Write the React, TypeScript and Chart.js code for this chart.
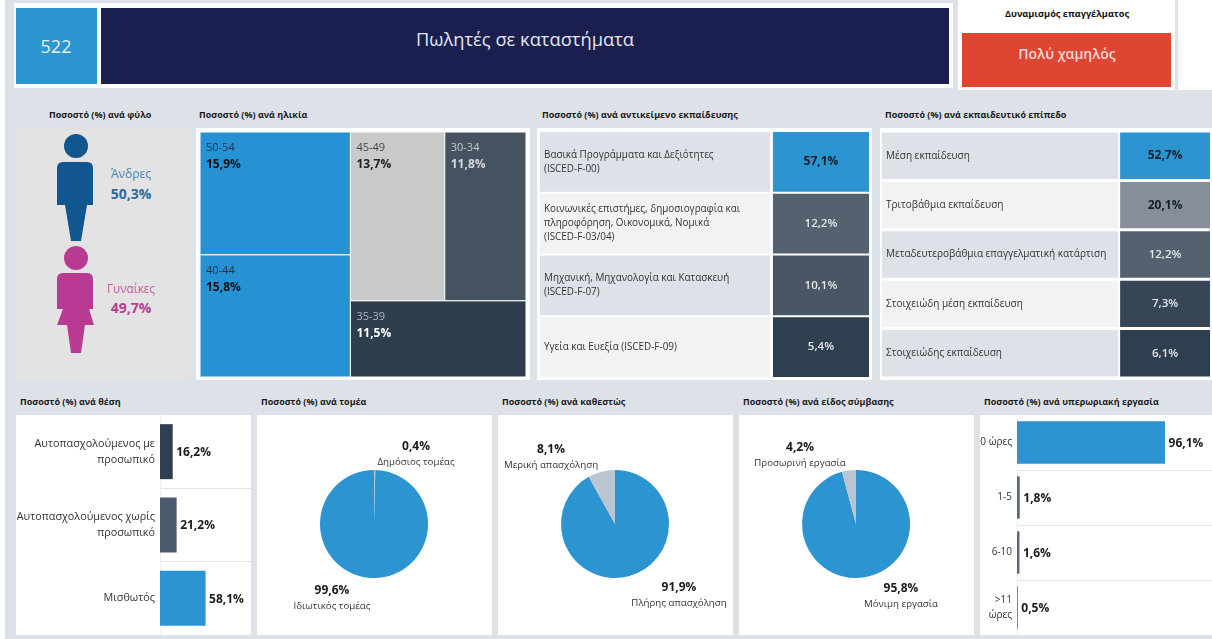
import React, { useEffect, useRef } from "react";
import { Chart, registerables } from "chart.js";

Chart.register(...registerables);

const FONT = '"Open Sans", "Noto Sans", sans-serif';

// ---- data ----
const headerCount = "522";
const headerTitle = "Πωλητές σε καταστήματα";
const dynamismTitle = "Δυναμισμός επαγγέλματος";
const dynamismValue = "Πολύ χαμηλός";

const genderLabels = ["Άνδρες", "Γυναίκες"];
const genderValues = [50.3, 49.7];

const ageLabels = ["50-54", "40-44", "45-49", "30-34", "35-39"];
const ageValues = [15.9, 15.8, 13.7, 11.8, 11.5];

const fieldLabels = [
  ["Βασικά Προγράμματα και Δεξιότητες", "(ISCED-F-00)"],
  ["Κοινωνικές επιστήμες, δημοσιογραφία και", "πληροφόρηση, Οικονομικά, Νομικά", "(ISCED-F-03/04)"],
  ["Μηχανική, Μηχανολογία και Κατασκευή", "(ISCED-F-07)"],
  ["Υγεία και Ευεξία (ISCED-F-09)"],
];
const fieldValues = [57.1, 12.2, 10.1, 5.4];

const eduLabels = [
  ["Μέση εκπαίδευση"],
  ["Τριτοβάθμια εκπαίδευση"],
  ["Μεταδευτεροβάθμια επαγγελματική κατάρτιση"],
  ["Στοιχειώδη μέση εκπαίδευση"],
  ["Στοιχειώδης εκπαίδευση"],
];
const eduValues = [52.7, 20.1, 12.2, 7.3, 6.1];

const positionLabels = [["Αυτοπασχολούμενος με", "προσωπικό"], ["Αυτοπασχολούμενος χωρίς", "προσωπικό"], "Μισθωτός"];
const positionValues = [16.2, 21.2, 58.1];

const sectorLabels = ["Δημόσιος τομέας", "Ιδιωτικός τομέας"];
const sectorValues = [0.4, 99.6];
const statusLabels = ["Πλήρης απασχόληση", "Μερική απασχόληση"];
const statusValues = [91.9, 8.1];
const contractLabels = ["Μόνιμη εργασία", "Προσωρινή εργασία"];
const contractValues = [95.8, 4.2];

const overtimeLabels = ["0 ώρες", "1-5", "6-10", [">11", "ώρες"]];
const overtimeValues = [96.1, 1.8, 1.6, 0.5];

// ---- styles ----
const BLUE = "#2B94D1";
const GREY_SLICE = "#BCC4CF";
const PAGE = "#DDE2E9";
const fmt = (v: number) => v.toFixed(1).replace(".", ",") + "%";

const ageColors = ["#2692D3", "#2692D3", "#C9C9C9", "#45525F", "#2E3E4D"];
const ageLabelColors = ["#1F3242", "#1F3242", "#444444", "#C4C8CC", "#AEB6BD"];
const ageValueColors = ["#111111", "#111111", "#222222", "#D6D9DC", "#FFFFFF"];

const fieldColors = [BLUE, "#54616E", "#4A5663", "#2E3F4F"];
const eduColors = [BLUE, "#868F99", "#54616E", "#364655", "#2E3F4F"];
const darkText = new Set([57.1, 52.7, 20.1]);
const positionColors = ["#2E4050", "#4A5A6A", BLUE];
const overtimeColors = [BLUE, "#5A6878", "#5A6878", "#5A6878"];

// ---- plugins ----
const treemapPlugin = {
  id: "treemapCells",
  beforeDatasetsDraw(chart: any) {
    const { ctx, scales } = chart;
    const { x, y } = scales;
    chart.data.datasets[0].data.forEach((c: any, i: number) => {
      const x0 = x.getPixelForValue(c.x0);
      const x1 = x.getPixelForValue(c.x1);
      const y0 = y.getPixelForValue(c.y1);
      const y1 = y.getPixelForValue(c.y0);
      ctx.fillStyle = ageColors[i];
      ctx.fillRect(x0, y0, x1 - x0, y1 - y0);
      ctx.strokeStyle = "#ffffff";
      ctx.lineWidth = 1;
      ctx.strokeRect(x0, y0, x1 - x0, y1 - y0);
      ctx.textAlign = "left";
      ctx.textBaseline = "middle";
      ctx.font = `11px ${FONT}`;
      ctx.fillStyle = ageLabelColors[i];
      ctx.fillText(c.label, x0 + 6, y0 + 16);
      ctx.font = `bold 12px ${FONT}`;
      ctx.fillStyle = ageValueColors[i];
      ctx.fillText(fmt(c.v), x0 + 6, y0 + 33);
    });
  },
};

const tableTextPlugin = {
  id: "tableText",
  afterDatasetsDraw(chart: any) {
    const { ctx } = chart;
    const { lineHeight: lineH, size } = chart.options.plugins.tableText;
    const labelMeta = chart.getDatasetMeta(0);
    const valueMeta = chart.getDatasetMeta(1);
    labelMeta.data.forEach((bar: any, i: number) => {
      const raw = chart.data.datasets[0].data[i];
      const lines: string[] = raw.lines;
      ctx.textBaseline = "middle";
      ctx.textAlign = "left";
      ctx.font = `${size}px ${FONT}`;
      ctx.fillStyle = "#333333";
      const left = Math.min(bar.base, bar.x);
      lines.forEach((t, k) => {
        ctx.fillText(t, left + 4, bar.y + (k - (lines.length - 1) / 2) * lineH);
      });
      const cell = valueMeta.data[i];
      const v = chart.data.datasets[1].data[i].v;
      const dark = darkText.has(v);
      ctx.textAlign = "center";
      ctx.font = `${dark ? 700 : 600} ${dark ? 12 : 11.5}px ${FONT}`;
      ctx.fillStyle = dark ? "#16202A" : "#E6E8EA";
      ctx.fillText(fmt(v), (cell.base + cell.x) / 2, cell.y);
    });
  },
};

const barValuePlugin = {
  id: "barValues",
  afterDatasetsDraw(chart: any) {
    const { ctx } = chart;
    chart.getDatasetMeta(0).data.forEach((bar: any, i: number) => {
      ctx.textBaseline = "middle";
      ctx.textAlign = "left";
      ctx.font = `bold 12px ${FONT}`;
      ctx.fillStyle = "#1A1A1A";
      ctx.fillText(fmt(chart.data.datasets[0].data[i]), bar.x + 3.5, bar.y + 1);
    });
  },
};

const pieTextPlugin = {
  id: "pieText",
  afterDraw(chart: any) {
    const { ctx } = chart;
    const { spots } = chart.options.plugins.pieText;
    const ds = chart.data.datasets[0];
    chart.data.labels.forEach((name: string, i: number) => {
      const s = spots[i];
      ctx.textAlign = "center";
      ctx.textBaseline = "middle";
      ctx.font = `bold 12px ${FONT}`;
      ctx.fillStyle = "#1A1A1A";
      ctx.fillText(fmt(ds.data[i]), s.x, s.y);
      ctx.font = `9.7px ${FONT}`;
      ctx.fillStyle = "#333333";
      ctx.fillText(name, s.x, s.y + 15.5);
    });
  },
};

// ---- chart config builders ----
function treemapConfig() {
  const left = ageValues[0] + ageValues[1];
  const right = ageValues[2] + ageValues[3] + ageValues[4];
  const total = left + right;
  const topRow = ageValues[2] + ageValues[3];
  const split = ageValues[0] / left;
  const rowSplit = topRow / right;
  const cells = [
    { x0: 0, x1: left, y0: 1 - split, y1: 1 },
    { x0: 0, x1: left, y0: 0, y1: 1 - split },
    { x0: left, x1: left + (right * ageValues[2]) / topRow, y0: 1 - rowSplit, y1: 1 },
    { x0: left + (right * ageValues[2]) / topRow, x1: total, y0: 1 - rowSplit, y1: 1 },
    { x0: left, x1: total, y0: 0, y1: 1 - rowSplit },
  ].map((c, i) => ({ ...c, x: (c.x0 + c.x1) / 2, y: (c.y0 + c.y1) / 2, v: ageValues[i], label: ageLabels[i] }));
  return {
    type: "scatter",
    data: { datasets: [{ data: cells, pointRadius: 0 }] },
    options: {
      responsive: false,
      animation: false,
      devicePixelRatio: 1,
      layout: { padding: { left: 4, right: 4, top: 4, bottom: 3 } },
      plugins: { legend: { display: false }, tooltip: { enabled: false } },
      scales: {
        x: { display: false, min: 0, max: total },
        y: { display: false, min: 0, max: 1 },
      },
    },
    plugins: [treemapPlugin],
  };
}

function tableConfig(
  labels: string[][],
  values: number[],
  colors: string[],
  split: [number, number],
  lineHeight: number,
  pct: number,
  size: number,
  side: number,
) {
  const cats = labels.map((l) => l.join(" "));
  return {
    type: "bar",
    data: {
      labels: cats,
      datasets: [
        {
          data: labels.map((l, i) => ({ y: cats[i], x: [0, split[0]], lines: l })),
          backgroundColor: cats.map((_, i) => (i % 2 === 0 ? "#DDE2E9" : "#F2F2F2")),
          grouped: false,
          barPercentage: pct,
          categoryPercentage: 1,
        },
        {
          data: values.map((v, i) => ({ y: cats[i], x: [split[1], 1], v })),
          backgroundColor: colors,
          grouped: false,
          barPercentage: pct,
          categoryPercentage: 1,
        },
      ],
    },
    options: {
      indexAxis: "y",
      responsive: false,
      animation: false,
      devicePixelRatio: 1,
      parsing: { xAxisKey: "x", yAxisKey: "y" },
      layout: { padding: { left: side, right: side, top: 3, bottom: 2 } },
      plugins: { legend: { display: false }, tooltip: { enabled: false }, tableText: { lineHeight, size } },
      scales: {
        x: { display: false, min: 0, max: 1 },
        y: { display: false },
      },
    },
    plugins: [tableTextPlugin],
  };
}

function barConfig(labels: any[], values: number[], colors: string[], axisWidth: number, max: number, fontSize: number, pct: number) {
  const lastLine = labels.length;
  return {
    type: "bar",
    data: {
      labels,
      datasets: [{ data: values, backgroundColor: colors, barPercentage: pct, categoryPercentage: 1 }],
    },
    options: {
      indexAxis: "y",
      responsive: false,
      animation: false,
      devicePixelRatio: 1,
      plugins: { legend: { display: false }, tooltip: { enabled: false } },
      scales: {
        x: { display: false, min: 0, max },
        y: {
          afterFit: (s: any) => {
            s.width = axisWidth;
            s.paddingTop = 0;
            s.paddingBottom = 0;
          },
          border: { color: "#EEEEEE" },
          grid: {
            drawTicks: false,
            color: (c: any) => (c.index === 0 || c.index === lastLine ? "rgba(0,0,0,0)" : "#E4E4E4"),
          },
          ticks: { color: "#333333", padding: 5, autoSkip: false, font: { family: FONT, size: fontSize, lineHeight: 1.5 } },
        },
      },
    },
    plugins: [barValuePlugin],
  };
}

function pieConfig(labels: string[], values: number[], colors: string[], center: { x: number; y: number }, spots: { x: number; y: number }[]) {
  const R = 54;
  const W = 235;
  const H = 220;
  return {
    type: "pie",
    data: { labels, datasets: [{ data: values, backgroundColor: colors, borderWidth: 0 }] },
    options: {
      responsive: false,
      animation: false,
      devicePixelRatio: 1,
      layout: { padding: { left: center.x - R, right: W - center.x - R, top: center.y - R, bottom: H - center.y - R } },
      plugins: { legend: { display: false }, tooltip: { enabled: false }, pieText: { spots } },
    },
    plugins: [pieTextPlugin],
  };
}

// ---- components ----
function ChartBox({ x, y, w, h, bg, make }: { x: number; y: number; w: number; h: number; bg?: string; make: () => any }) {
  const ref = useRef<HTMLCanvasElement>(null);
  useEffect(() => {
    const chart = new Chart(ref.current as HTMLCanvasElement, make());
    return () => chart.destroy();
  }, []);
  return (
    <div style={{ position: "absolute", left: x, top: y, width: w, height: h, background: bg || "transparent" }}>
      <canvas ref={ref} width={w} height={h} style={{ display: "block" }} />
    </div>
  );
}

function Box({ x, y, w, h, bg }: { x: number; y: number; w: number; h: number; bg: string }) {
  return <div style={{ position: "absolute", left: x, top: y, width: w, height: h, background: bg }} />;
}

function Label({ x, y, text, size, color, weight, align }: { x: number; y: number; text: string; size: number; color: string; weight?: number; align?: "left" | "center" }) {
  return (
    <div
      style={{
        position: "absolute",
        left: x,
        top: y,
        fontFamily: FONT,
        fontSize: size,
        fontWeight: weight || 400,
        color,
        whiteSpace: "nowrap",
        lineHeight: 1,
        transform: `translate(${align === "center" ? "-50%" : "0"}, -50%)`,
      }}
    >
      {text}
    </div>
  );
}

const titles: [number, number, string][] = [
  [49, 114, "Ποσοστό (%) ανά φύλο"],
  [199, 114, "Ποσοστό (%) ανά ηλικία"],
  [542, 114, "Ποσοστό (%) ανά αντικείμενο εκπαίδευσης"],
  [885, 114, "Ποσοστό (%) ανά εκπαιδευτικό επίπεδο"],
  [20, 401, "Ποσοστό (%) ανά θέση"],
  [261, 401, "Ποσοστό (%) ανά τομέα"],
  [502, 401, "Ποσοστό (%) ανά καθεστώς"],
  [743, 401, "Ποσοστό (%) ανά είδος σύμβασης"],
  [984, 401, "Ποσοστό (%) ανά υπερωριακή εργασία"],
];

export default function App() {
  return (
    <div style={{ position: "absolute", left: 0, top: 0, width: 1212, height: 639, overflow: "hidden", background: PAGE, filter: "blur(0.4px)" }}>
      {/* page edges and header */}
      <Box x={0} y={0} w={5} h={639} bg="#FFFFFF" />
      <Box x={14} y={3} w={939} h={85} bg="#FFFFFF" />
      <Box x={16} y={8} w={81} h={76} bg={BLUE} />
      <Box x={101} y={8} w={848} h={76} bg="#1A1F4F" />
      <Box x={958} y={0} w={217} h={90} bg="#FFFFFF" />
      <Box x={962} y={33} w={209} h={54} bg="#DF4533" />
      <Box x={1178} y={0} w={34} h={90} bg="#FFFFFF" />
      <Label x={56} y={46} text={headerCount} size={18} color="#E8F2FA" align="center" />
      <Label x={525} y={39} text={headerTitle} size={18.3} color="#E4E6EE" align="center" />
      <Label x={1067} y={14} text={dynamismTitle} size={9.2} color="#111111" weight={700} align="center" />
      <Label x={1067} y={54} text={dynamismValue} size={14} color="#F7D8D2" weight={600} align="center" />

      {titles.map(([x, y, t]) => (
        <Label key={t} x={x} y={y} text={t} size={9} color="#1A1A1A" weight={700} />
      ))}

      {/* gender panel */}
      <Box x={16} y={128} w={174} h={252} bg="#E3E3E3" />
      <svg width={174} height={252} style={{ position: "absolute", left: 16, top: 128 }}>
        <g fill="#11568F">
          <circle cx={60} cy={18} r={12} />
          <path d="M41 40 Q41 34 47 34 H71 Q77 34 77 40 V77 H71 L65 113 H55 L49 77 H41 Z" />
        </g>
        <g fill="#B93A92">
          <circle cx={60} cy={130} r={12} />
          <path d="M41 151 Q41 145 47 145 H71 Q77 145 77 151 V181 H73 L78 197 H69 L65 225 H55 L51 197 H41 L47 181 H41 Z" />
        </g>
      </svg>
      <Label x={131} y={174} text={genderLabels[0]} size={12} color="#4A7FB5" align="center" />
      <Label x={131} y={194} text={fmt(genderValues[0])} size={14} color="#2D6AA0" weight={700} align="center" />
      <Label x={131} y={289} text={genderLabels[1]} size={11.7} color="#C65BA5" align="center" />
      <Label x={131} y={308} text={fmt(genderValues[1])} size={14} color="#BC3A93" weight={700} align="center" />

      {/* treemap + tables */}
      <ChartBox x={196} y={128} w={334} h={252} bg="#FFFFFF" make={treemapConfig} />
      <ChartBox x={537} y={128} w={335} h={252} bg="#FFFFFF" make={() => tableConfig(fieldLabels, fieldValues, fieldColors, [0.699, 0.708], 14, 0.965, 9.9, 3)} />
      <ChartBox x={880} y={128} w={332} h={252} bg="#FFFFFF" make={() => tableConfig(eduLabels, eduValues, eduColors, [0.72, 0.726], 14, 0.94, 10, 2)} />

      {/* bottom row */}
      <ChartBox x={16} y={415} w={235} h={220} bg="#FFFFFF" make={() => barConfig(positionLabels, positionValues, positionColors, 144, 116, 10.8, 0.75)} />
      <ChartBox x={257} y={415} w={235} h={220} bg="#FFFFFF" make={() => pieConfig(sectorLabels, sectorValues, [GREY_SLICE, BLUE], { x: 117, y: 109 }, [{ x: 159, y: 32 }, { x: 75, y: 176 }])} />
      <ChartBox x={498} y={415} w={235} h={220} bg="#FFFFFF" make={() => pieConfig(statusLabels, statusValues, [BLUE, GREY_SLICE], { x: 117, y: 109 }, [{ x: 181, y: 173 }, { x: 53, y: 35 }])} />
      <ChartBox x={739} y={415} w={235} h={220} bg="#FFFFFF" make={() => pieConfig(contractLabels, contractValues, [BLUE, GREY_SLICE], { x: 117, y: 109 }, [{ x: 162, y: 174 }, { x: 61, y: 33 }])} />
      <ChartBox x={980} y={415} w={232} h={220} bg="#FFFFFF" make={() => barConfig(overtimeLabels, overtimeValues, overtimeColors, 37, 126.6, 10, 0.77)} />
    </div>
  );
}
